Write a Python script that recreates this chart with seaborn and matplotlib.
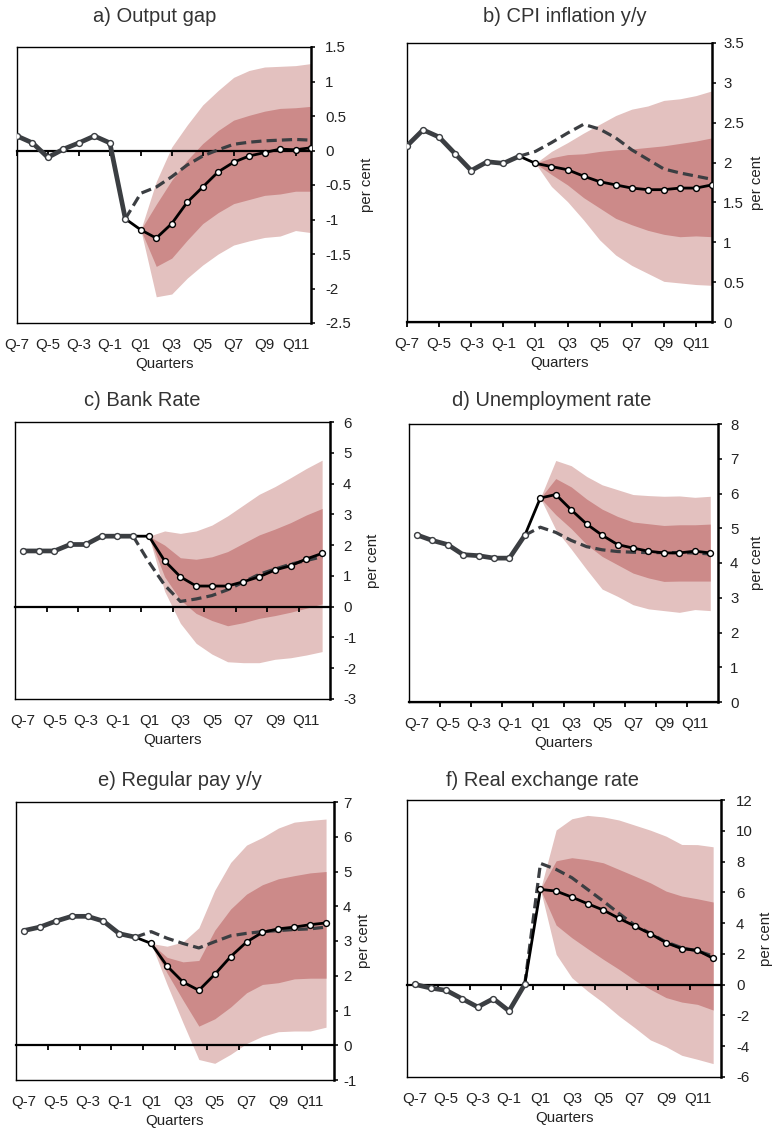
import matplotlib
matplotlib.use("Agg")
import matplotlib.pyplot as plt
import matplotlib.ticker as mticker
import seaborn as sns

# ---------------- data ----------------
quarters = list(range(-7, 13))            # Q-7 ... Q12 (Q0 = last outturn)
fan_quarters = list(range(1, 13))         # Q1 ... Q12
label_quarters = [-7, -5, -3, -1, 1, 3, 5, 7, 9, 11]
x_tick_labels = ["Q-7", "Q-5", "Q-3", "Q-1", "Q1", "Q3", "Q5", "Q7", "Q9", "Q11"]

titles = ["a) Output gap", "b) CPI inflation y/y", "c) Bank Rate",
          "d) Unemployment rate", "e) Regular pay y/y", "f) Real exchange rate"]

# a) Output gap
gap_central = [0.21, 0.11, -0.10, 0.02, 0.11, 0.21, 0.11, -0.99, -1.15, -1.27,
               -1.06, -0.75, -0.53, -0.31, -0.17, -0.08, -0.03, 0.02, 0.01, 0.04]
gap_alt = [-0.62, -0.53, -0.38, -0.21, -0.08, 0.01, 0.09, 0.12, 0.14, 0.15, 0.16, 0.15]
gap_light_hi = [-1.15, -0.45, 0.05, 0.37, 0.66, 0.87, 1.06, 1.16, 1.21, 1.22, 1.23, 1.26]
gap_dark_hi = [-1.15, -0.78, -0.43, -0.14, 0.10, 0.29, 0.44, 0.51, 0.57, 0.61, 0.62, 0.64]
gap_dark_lo = [-1.15, -1.68, -1.56, -1.30, -1.06, -0.90, -0.77, -0.71, -0.65, -0.63, -0.59, -0.59]
gap_light_lo = [-1.15, -2.12, -2.08, -1.85, -1.66, -1.50, -1.37, -1.31, -1.26, -1.24, -1.16, -1.19]

# b) CPI inflation
cpi_central = [2.21, 2.41, 2.32, 2.11, 1.90, 2.01, 1.99, 2.08, 1.99, 1.95,
               1.91, 1.83, 1.76, 1.72, 1.68, 1.66, 1.66, 1.68, 1.68, 1.72]
cpi_alt = [2.14, 2.25, 2.37, 2.48, 2.42, 2.31, 2.16, 2.04, 1.92, 1.87, 1.83, 1.79]
cpi_light_hi = [1.99, 2.14, 2.25, 2.37, 2.48, 2.59, 2.67, 2.71, 2.78, 2.80, 2.84, 2.90]
cpi_dark_hi = [1.99, 2.06, 2.10, 2.11, 2.14, 2.16, 2.17, 2.19, 2.21, 2.24, 2.27, 2.31]
cpi_dark_lo = [1.99, 1.85, 1.72, 1.56, 1.43, 1.30, 1.22, 1.15, 1.10, 1.07, 1.08, 1.07]
cpi_light_lo = [1.99, 1.70, 1.51, 1.28, 1.03, 0.84, 0.71, 0.61, 0.51, 0.49, 0.47, 0.46]

# c) Bank Rate
rate_central = [1.81, 1.81, 1.81, 2.02, 2.02, 2.29, 2.29, 2.29, 2.29, 1.49,
                0.97, 0.67, 0.67, 0.67, 0.81, 0.97, 1.19, 1.33, 1.55, 1.73]
rate_alt = [1.45, 0.70, 0.17, 0.25, 0.36, 0.55, 0.80, 1.05, 1.22, 1.38, 1.50, 1.62]
rate_light_hi = [2.29, 2.46, 2.38, 2.46, 2.65, 2.95, 3.30, 3.65, 3.90, 4.19, 4.49, 4.76]
rate_dark_hi = [2.29, 2.00, 1.59, 1.54, 1.62, 1.79, 2.06, 2.33, 2.52, 2.73, 2.98, 3.19]
rate_dark_lo = [2.29, 0.97, 0.22, -0.22, -0.45, -0.62, -0.52, -0.38, -0.29, -0.18, -0.05, 0.09]
rate_light_lo = [2.29, 0.50, -0.54, -1.19, -1.54, -1.79, -1.82, -1.82, -1.71, -1.66, -1.57, -1.46]

# d) Unemployment rate
unemp_central = [4.81, 4.65, 4.53, 4.24, 4.21, 4.14, 4.14, 4.80, 5.87, 5.97,
                 5.53, 5.12, 4.80, 4.53, 4.43, 4.34, 4.29, 4.29, 4.34, 4.29]
unemp_alt = [5.03, 4.88, 4.65, 4.47, 4.38, 4.33, 4.31, 4.30, 4.30, 4.30, 4.29, 4.26]
unemp_light_hi = [5.87, 6.95, 6.80, 6.49, 6.25, 6.11, 5.97, 5.94, 5.92, 5.93, 5.89, 5.92]
unemp_dark_hi = [5.87, 6.43, 6.19, 5.84, 5.55, 5.34, 5.18, 5.13, 5.08, 5.10, 5.10, 5.12]
unemp_dark_lo = [5.87, 5.39, 4.99, 4.53, 4.19, 3.95, 3.71, 3.57, 3.47, 3.48, 3.48, 3.48]
unemp_light_lo = [5.87, 4.96, 4.40, 3.81, 3.25, 3.04, 2.80, 2.68, 2.63, 2.58, 2.66, 2.63]

# e) Regular pay
pay_central = [3.30, 3.40, 3.57, 3.71, 3.71, 3.57, 3.21, 3.11, 2.93, 2.28,
               1.82, 1.58, 2.04, 2.55, 2.97, 3.25, 3.35, 3.40, 3.47, 3.52]
pay_alt = [3.27, 3.08, 2.93, 2.80, 2.98, 3.15, 3.22, 3.27, 3.30, 3.33, 3.35, 3.40]
pay_light_hi = [2.93, 2.85, 2.97, 3.38, 4.46, 5.26, 5.76, 5.98, 6.25, 6.42, 6.47, 6.51]
pay_dark_hi = [2.93, 2.53, 2.40, 2.44, 3.31, 3.92, 4.35, 4.62, 4.79, 4.88, 4.96, 5.00]
pay_dark_lo = [2.93, 2.08, 1.30, 0.55, 0.76, 1.10, 1.51, 1.75, 1.80, 1.91, 1.93, 1.93]
pay_light_lo = [2.93, 1.75, 0.65, -0.41, -0.52, -0.26, 0.05, 0.26, 0.39, 0.41, 0.41, 0.52]

# f) Real exchange rate
rer_central = [0.02, -0.22, -0.37, -0.91, -1.45, -0.91, -1.71, 0.02, 6.19, 6.08,
               5.69, 5.26, 4.85, 4.31, 3.81, 3.31, 2.73, 2.34, 2.23, 1.71]
rer_alt = [7.88, 7.49, 6.95, 6.19, 5.43, 4.63, 3.87, 3.33, 2.77, 2.40, 2.19, 1.86]
rer_light_hi = [6.19, 10.05, 10.78, 11.00, 10.90, 10.70, 10.37, 10.04, 9.65, 9.11, 9.10, 8.96]
rer_dark_hi = [6.19, 8.05, 8.25, 8.12, 7.92, 7.49, 7.06, 6.62, 6.08, 5.76, 5.58, 5.37]
rer_dark_lo = [6.19, 3.87, 3.05, 2.34, 1.65, 1.00, 0.30, -0.30, -0.84, -1.13, -1.28, -1.65]
rer_light_lo = [6.19, 1.97, 0.45, -0.41, -1.17, -2.03, -2.79, -3.59, -4.03, -4.59, -4.85, -5.13]

# y-axis ranges and ticks
y_ranges = [(-2.5, 1.5, 0.5), (0, 3.5, 0.5), (-3, 6, 1), (0, 8, 1), (-1, 7, 1), (-6, 12, 2)]

# ---------------- style ----------------
sns.set_theme(style="white")
plt.rcParams["font.family"] = ["Liberation Sans", "DejaVu Sans"]
plt.rcParams["axes.unicode_minus"] = False

LIGHT = "#e3c1bf"
DARK = "#cc8a89"
GREY = "#3b3e42"
TEXT = "#222222"

W, H = 773, 1131
fig = plt.figure(figsize=(W / 100, H / 100), dpi=100)

# pixel boxes: left, top, right, bottom
boxes = [(17, 47, 311, 323), (407, 43, 712, 322), (15, 422, 330, 699),
         (409, 424, 718, 702), (16, 802, 334, 1080), (407, 800, 721, 1077)]
title_pos = [(155, 17), (565, 17), (142, 401), (552, 401), (180, 781), (542, 780)]
ylabel_x = [367, 757, 373, 757, 364, 766]
ytick_gap_px = [14, 11, 13, 12, 9, 15]
# a, b: ticks at labels; c-f: ticks at category boundaries
edge_style = [False, False, True, True, True, True]

panels = [
    (gap_central, gap_alt, gap_light_lo, gap_dark_lo, gap_dark_hi, gap_light_hi),
    (cpi_central, cpi_alt, cpi_light_lo, cpi_dark_lo, cpi_dark_hi, cpi_light_hi),
    (rate_central, rate_alt, rate_light_lo, rate_dark_lo, rate_dark_hi, rate_light_hi),
    (unemp_central, unemp_alt, unemp_light_lo, unemp_dark_lo, unemp_dark_hi, unemp_light_hi),
    (pay_central, pay_alt, pay_light_lo, pay_dark_lo, pay_dark_hi, pay_light_hi),
    (rer_central, rer_alt, rer_light_lo, rer_dark_lo, rer_dark_hi, rer_light_hi),
]

TICK_LEN_PT = 3.0
for i, (central, alt, llo, dlo, dhi, lhi) in enumerate(panels):
    l, t, r, b = boxes[i]
    ax = fig.add_axes([l / W, 1 - b / H, (r - l) / W, (b - t) / H])
    ymin, ymax, step = y_ranges[i]

    # fan bands
    ax.fill_between(fan_quarters, llo, lhi, color=LIGHT, lw=0, zorder=1)
    ax.fill_between(fan_quarters, dlo, dhi, color=DARK, lw=0, zorder=1.1)

    q0 = quarters.index(0)
    hist_x, hist_y = quarters[:q0 + 1], central[:q0 + 1]
    fc_x, fc_y = quarters[q0:], central[q0:]
    alt_x = [0] + fan_quarters
    alt_y = [central[q0]] + alt

    sns.lineplot(x=hist_x, y=hist_y, ax=ax, color=GREY, lw=3.4, zorder=3,
                 solid_capstyle="round", solid_joinstyle="round")
    sns.lineplot(x=alt_x, y=alt_y, ax=ax, color=GREY, lw=2.3, zorder=3.5,
                 linestyle=(0, (3.2, 1.6)))
    sns.lineplot(x=fc_x, y=fc_y, ax=ax, color="black", lw=2.0, zorder=4,
                 solid_joinstyle="round")
    sns.scatterplot(x=hist_x, y=hist_y, ax=ax, s=18, color="white",
                    edgecolor=GREY, linewidth=1.0, zorder=5)
    sns.scatterplot(x=fc_x[1:], y=fc_y[1:], ax=ax, s=18, color="white",
                    edgecolor="black", linewidth=1.0, zorder=5)

    # axes limits
    if edge_style[i]:
        ax.set_xlim(-7.5, 12.5)
        minor_pos = [-5.5, -3.5, -1.5, 0.5, 2.5, 4.5, 6.5, 8.5, 10.5]
    else:
        ax.set_xlim(-7, 12)
        minor_pos = label_quarters
    ax.set_ylim(ymin, ymax)

    # x tick labels at bottom
    ax.set_xticks(label_quarters)
    ax.set_xticklabels(x_tick_labels)
    ax.tick_params(axis="x", length=0, pad=10.5, labelsize=10.8, colors=TEXT)
    ax.set_xlabel("Quarters", fontsize=10.8, color=TEXT, labelpad=4)

    # y axis on right
    yt = [ymin + k * step for k in range(int(round((ymax - ymin) / step)) + 1)]
    ax.yaxis.tick_right()
    ax.yaxis.set_label_position("right")
    ax.set_yticks(yt)
    ax.yaxis.set_major_formatter(mticker.FuncFormatter(lambda v, p: f"{v:g}"))
    pad_pt = max(ytick_gap_px[i] * 0.72 - TICK_LEN_PT, 1.0)
    ax.tick_params(axis="y", direction="out", length=TICK_LEN_PT, width=1.3,
                   pad=pad_pt, labelsize=10.8, colors=TEXT, right=True, left=False)
    ax.set_ylabel("per cent", fontsize=10.8, color=TEXT)
    ax.yaxis.set_label_coords((ylabel_x[i] - l) / (r - l), 0.5)
    ax.yaxis.label.set_verticalalignment("center")

    for side in ["left", "top", "bottom"]:
        ax.spines[side].set_color("black")
        ax.spines[side].set_linewidth(1.0)
    ax.spines["right"].set_color("black")
    ax.spines["right"].set_linewidth(1.8)

    # zero line with tick marks
    frac = (0 - ymin) / (ymax - ymin)
    sec = ax.secondary_xaxis(frac)
    sec.set_alignment("bottom")
    sec.set_xticks(minor_pos)
    sec.tick_params(axis="x", direction="out", length=3.5, width=1.3,
                    labelbottom=False, labeltop=False, color="black")
    for s in sec.spines.values():
        s.set_linewidth(1.6)
        s.set_color("black")
    sec.set_zorder(2)

    tx, ty = title_pos[i]
    fig.text(tx / W, 1 - ty / H, titles[i], ha="center", va="center",
             fontsize=14.5, color="#333333")

fig.savefig("out.png", dpi=100)
